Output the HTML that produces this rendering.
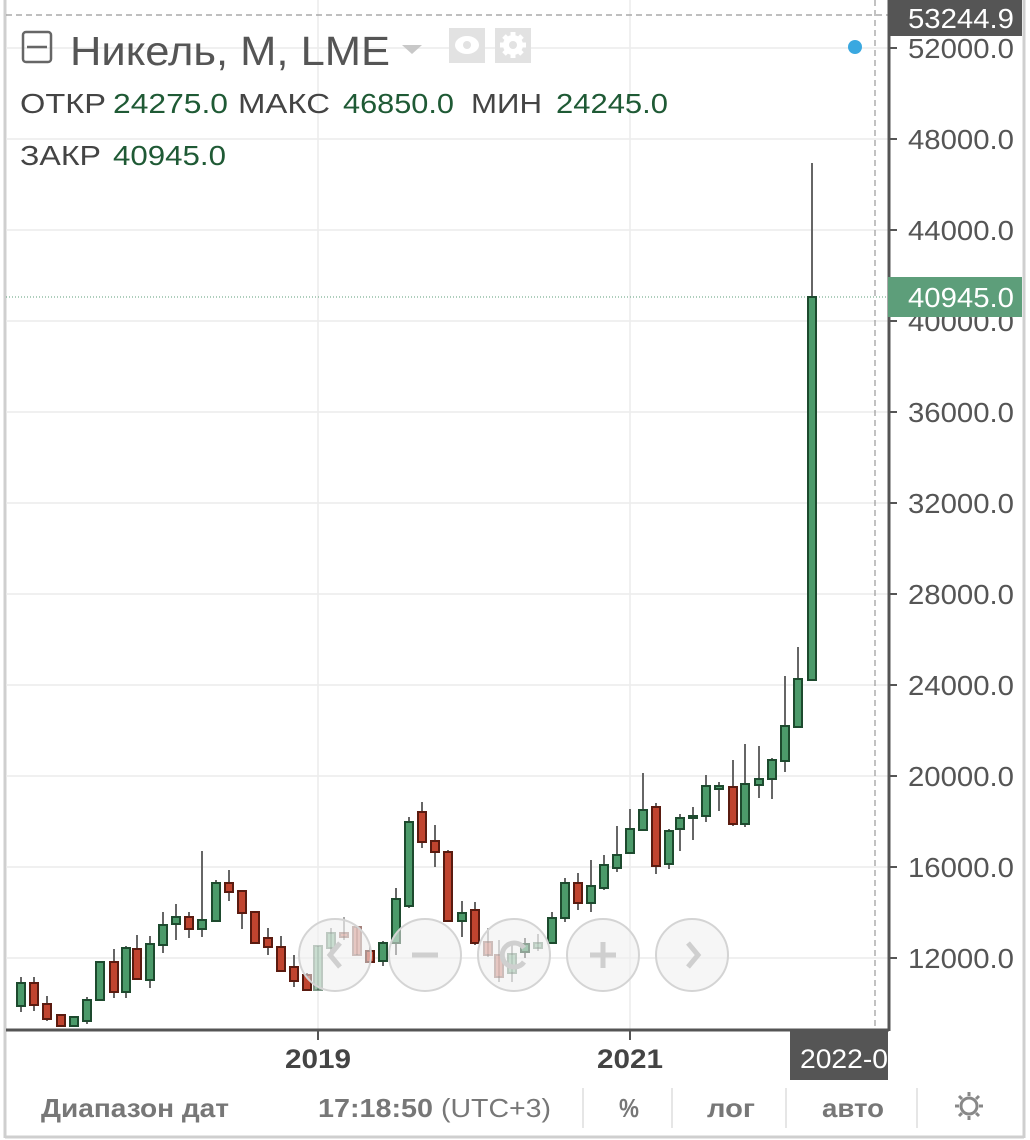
<!DOCTYPE html>
<html><head><meta charset="utf-8"><style>
html,body{margin:0;padding:0;background:#fff;}
svg{display:block;font-family:"Liberation Sans Narrow","Liberation Sans",sans-serif;}
</style></head><body>
<svg id="s" width="1030" height="1140" viewBox="0 0 1030 1140" xmlns="http://www.w3.org/2000/svg">
<rect width="1030" height="1140" fill="#fff"/>
<!-- borders -->
<line x1="5" y1="0" x2="5" y2="1138" stroke="#cfcfcf" stroke-width="3"/>
<line x1="1024" y1="0" x2="1024" y2="1138" stroke="#cfcfcf" stroke-width="3"/>
<line x1="5" y1="1137" x2="1024" y2="1137" stroke="#cfcfcf" stroke-width="3"/>
<g id="grid" stroke="#ececec" stroke-width="1.5"></g>
<line x1="318" y1="0" x2="318" y2="1030" stroke="#ececec" stroke-width="1.5"/>
<line x1="630" y1="0" x2="630" y2="1030" stroke="#ececec" stroke-width="1.5"/>
<!-- crosshair dashed -->
<line x1="6" y1="15" x2="888" y2="15" stroke="#999" stroke-width="1.2" stroke-dasharray="6,4"/>
<line x1="875" y1="0" x2="875" y2="1030" stroke="#999" stroke-width="1.2" stroke-dasharray="6,4"/>
<!-- last price dotted -->
<line x1="6" y1="297" x2="888" y2="297" stroke="#5d9e7a" stroke-width="1" stroke-dasharray="1,2"/>
<g id="candles"></g>
<!-- nav circles -->
<g fill="rgba(238,238,238,0.55)" stroke="#d4d4d4" stroke-width="2">
<circle cx="335" cy="955" r="36"/><circle cx="425" cy="955" r="36"/><circle cx="514" cy="955" r="36"/><circle cx="603" cy="955" r="36"/><circle cx="692" cy="955" r="36"/>
</g>
<g stroke="#cfcfcf" stroke-width="5" fill="none">
<polyline points="340,943 330,955 340,967"/>
<line x1="412" y1="955" x2="438" y2="955"/>
<path d="M524,948 A12,12 0 1 0 524,962"/>
<line x1="590" y1="955" x2="616" y2="955"/><line x1="603" y1="942" x2="603" y2="968"/>
<polyline points="688,943 698,955 688,967"/>
</g>
<!-- axes -->
<line x1="6" y1="1030" x2="889" y2="1030" stroke="#555" stroke-width="3"/>
<line x1="889" y1="0" x2="889" y2="1031" stroke="#555" stroke-width="3"/>
<line x1="318" y1="1030" x2="318" y2="1040" stroke="#555" stroke-width="2"/>
<line x1="630" y1="1030" x2="630" y2="1040" stroke="#555" stroke-width="2"/>
<g id="ylab" font-size="28" fill="#555"></g>
<rect x="888" y="0" width="134" height="36" fill="#555"/>
<text x="908" y="28" font-size="28" fill="#fff" textLength="106" lengthAdjust="spacingAndGlyphs">53244.9</text>
<rect x="888" y="277" width="134" height="40" fill="#5d9e7a"/>
<text x="908" y="307" font-size="28" fill="#fff" textLength="106" lengthAdjust="spacingAndGlyphs">40945.0</text>
<circle cx="855" cy="47" r="7" fill="#3aa8e0"/>
<!-- x labels -->
<text x="285" y="1068" font-size="27" font-weight="bold" fill="#444" textLength="66" lengthAdjust="spacingAndGlyphs">2019</text>
<text x="597" y="1068" font-size="27" font-weight="bold" fill="#444" textLength="66" lengthAdjust="spacingAndGlyphs">2021</text>
<rect x="790" y="1030" width="98" height="50" fill="#555"/>
<text x="800" y="1068" font-size="27" fill="#fff" textLength="88" lengthAdjust="spacingAndGlyphs">2022-0</text>
<!-- header -->
<rect x="23" y="32" width="28" height="30" rx="3" fill="none" stroke="#666" stroke-width="2.5"/>
<line x1="27" y1="47" x2="47" y2="47" stroke="#666" stroke-width="2.5"/>
<text x="70" y="65" font-size="41" fill="#555" textLength="320" lengthAdjust="spacingAndGlyphs">Никель, M, LME</text>
<polygon points="402,45 422,45 412,54" fill="#c8c8c8"/>
<rect x="449" y="28" width="36" height="35" fill="#e2e2e2"/>
<ellipse cx="467" cy="45" rx="12" ry="9" fill="#fff"/><circle cx="467" cy="45" r="4" fill="#e2e2e2"/>
<rect x="495" y="28" width="36" height="35" fill="#e2e2e2"/>
<circle cx="513" cy="45" r="10" fill="#fff"/><circle cx="513" cy="45" r="4" fill="#e2e2e2"/>
<g stroke="#fff" stroke-width="5"><line x1="513" y1="32" x2="513" y2="58"/><line x1="500" y1="45" x2="526" y2="45"/><line x1="504" y1="36" x2="522" y2="54"/><line x1="522" y1="36" x2="504" y2="54"/></g>
<circle cx="513" cy="45" r="4" fill="#e2e2e2"/>
<g font-size="28">
<text x="20" y="113" fill="#444" textLength="86" lengthAdjust="spacingAndGlyphs">ОТКР</text>
<text x="113" y="113" fill="#1f5a35" textLength="115" lengthAdjust="spacingAndGlyphs">24275.0</text>
<text x="238" y="113" fill="#444" textLength="92" lengthAdjust="spacingAndGlyphs">МАКС</text>
<text x="343" y="113" fill="#1f5a35" textLength="111" lengthAdjust="spacingAndGlyphs">46850.0</text>
<text x="471" y="113" fill="#444" textLength="71" lengthAdjust="spacingAndGlyphs">МИН</text>
<text x="556" y="113" fill="#1f5a35" textLength="112" lengthAdjust="spacingAndGlyphs">24245.0</text>
<text x="20" y="165" fill="#444" textLength="81" lengthAdjust="spacingAndGlyphs">ЗАКР</text>
<text x="113" y="165" fill="#1f5a35" textLength="113" lengthAdjust="spacingAndGlyphs">40945.0</text>
</g>
<!-- toolbar -->
<g font-size="26" fill="#777">
<text x="41" y="1117" font-weight="bold" textLength="188" lengthAdjust="spacingAndGlyphs">Диапазон дат</text>
<text x="318" y="1117" font-weight="bold" textLength="115" lengthAdjust="spacingAndGlyphs">17:18:50</text>
<text x="441" y="1117" textLength="110" lengthAdjust="spacingAndGlyphs">(UTC+3)</text>
<text x="619" y="1117" font-weight="bold" textLength="20" lengthAdjust="spacingAndGlyphs">%</text>
<text x="707" y="1117" font-weight="bold" textLength="48" lengthAdjust="spacingAndGlyphs">лог</text>
<text x="822" y="1117" font-weight="bold" textLength="62" lengthAdjust="spacingAndGlyphs">авто</text>
</g>
<g stroke="#ddd" stroke-width="1.5"><line x1="583" y1="1088" x2="583" y2="1128"/><line x1="672" y1="1088" x2="672" y2="1128"/><line x1="786" y1="1088" x2="786" y2="1128"/><line x1="917" y1="1088" x2="917" y2="1128"/></g>
<g stroke="#888" stroke-width="3" fill="none"><circle cx="969" cy="1106" r="8"/>
<g stroke-width="3"><line x1="969" y1="1092" x2="969" y2="1096"/><line x1="969" y1="1116" x2="969" y2="1120"/><line x1="955" y1="1106" x2="959" y2="1106"/><line x1="979" y1="1106" x2="983" y2="1106"/><line x1="959" y1="1096" x2="962" y2="1099"/><line x1="976" y1="1113" x2="979" y2="1116"/><line x1="979" y1="1096" x2="976" y2="1099"/><line x1="962" y1="1113" x2="959" y2="1116"/></g></g>
</svg>
<script>
var ns="http://www.w3.org/2000/svg";
function el(p,t,a){var e=document.createElementNS(ns,t);for(var k in a)e.setAttribute(k,a[k]);p.appendChild(e);return e;}
var grid=document.getElementById('grid'),yl=document.getElementById('ylab');
var ys=[[48,"52000.0"],[139,"48000.0"],[230,"44000.0"],[321,"40000.0"],[412,"36000.0"],[503,"32000.0"],[594,"28000.0"],[685,"24000.0"],[776,"20000.0"],[867,"16000.0"],[958,"12000.0"]];
ys.forEach(function(a){el(grid,'line',{x1:6,y1:a[0],x2:888,y2:a[0]});
el(document.getElementById('s'),'line',{x1:889,y1:a[0],x2:897,y2:a[0],stroke:'#555','stroke-width':2});
var t=el(yl,'text',{x:908,y:a[0]+10,textLength:106,lengthAdjust:'spacingAndGlyphs'});t.textContent=a[1];});
// x, wickTop, bodyTop, bodyBot, wickBot, color
var c=[[21,977,983,1006,1012,'G'],[34,977,983,1005,1011,'R'],[47,996,1004,1019,1021,'R'],[61,1014,1015,1026,1026,'R'],[74,1016,1017,1026,1026,'G'],[87,997,1000,1021,1024,'G'],[100,962,962,1000,1000,'G'],[114,949,962,992,998,'R'],[126,946,948,992,998,'G'],[137,935,949,979,980,'R'],[150,936,944,980,988,'G'],[163,912,925,945,953,'G'],[176,904,917,924,940,'G'],[189,912,917,929,938,'R'],[202,851,920,929,937,'G'],[216,880,883,921,921,'G'],[229,870,883,892,901,'R'],[242,891,891,913,929,'R'],[255,911,912,943,944,'R'],[268,928,938,947,955,'R'],[281,936,947,971,962,'R'],[294,955,967,981,987,'R'],[307,973,975,990,990,'R'],[318,946,946,990,990,'G',1],[331,928,933,948,955,'G',1],[344,917,933,937,940,'R',1],[357,926,927,955,955,'R',1],[370,946,951,962,963,'R'],[383,941,943,961,966,'G'],[396,888,899,943,955,'G'],[409,817,822,906,908,'G'],[422,802,812,842,848,'R'],[435,825,841,852,867,'R'],[448,850,852,921,922,'R'],[462,901,913,921,937,'G'],[475,902,910,943,945,'R'],[488,928,942,955,957,'R',1],[499,940,955,977,982,'R',1],[512,944,954,973,982,'G',1],[525,938,944,952,958,'G'],[538,934,943,948,951,'G',1],[552,912,918,943,944,'G'],[565,878,883,918,922,'G'],[578,873,883,903,910,'R'],[591,860,886,903,912,'G'],[604,855,865,888,890,'G'],[617,826,855,868,872,'G'],[630,809,829,853,853,'G'],[643,773,810,830,830,'G'],[656,803,807,866,874,'R'],[669,829,831,864,869,'G'],[680,814,818,829,851,'G'],[693,807,816,818,840,'G'],[706,775,786,816,822,'G'],[719,782,786,789,811,'G'],[733,760,787,824,826,'R'],[745,744,784,824,827,'G'],[759,746,779,785,798,'G'],[772,758,760,779,799,'G'],[785,676,726,761,772,'G'],[798,647,679,727,728,'G'],[812,163,297,680,680,'G']];
var g=document.getElementById('candles');
c.forEach(function(d){var gr=d[5]=='G';var o=d[6]?0.55:1;
el(g,'line',{x1:d[0],y1:d[1],x2:d[0],y2:d[4],stroke:'#666','stroke-width':2,opacity:o});
el(g,'rect',{x:d[0]-4,y:d[2],width:8,height:Math.max(2,d[3]-d[2]),fill:gr?'#4c9a6a':'#c0442f',stroke:gr?'#1d4a2e':'#5a1b10','stroke-width':2,opacity:o});});
</script>
</body></html>
